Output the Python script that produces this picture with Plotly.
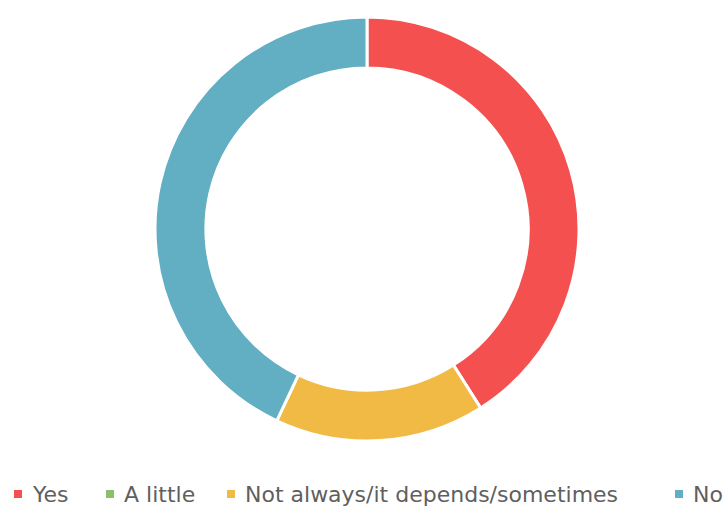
import plotly.graph_objects as go

# Survey responses (share of respondents, %)
labels = ["Yes", "A little", "Not always/it depends/sometimes", "No"]
values = [41, 0, 16, 43]
colors = ["#F45050", "#8BC06A", "#F0BA45", "#62AEC2"]

W, H = 727, 507
cx, cy, r = 367, 229, 212

fig = go.Figure(
    go.Pie(
        labels=labels,
        values=values,
        hole=0.76,
        sort=False,
        direction="clockwise",
        rotation=0,
        textinfo="none",
        marker=dict(colors=colors, line=dict(color="white", width=3)),
        showlegend=False,
        domain=dict(
            x=[(cx - r) / W, (cx + r) / W],
            y=[(H - cy - r) / H, (H - cy + r) / H],
        ),
    )
)

# Hand-placed horizontal legend along the bottom edge
legend_x = [14, 106, 227, 675]
legend_y = 494
sq = 8
shapes, annots = [], []
for lab, col, x0 in zip(labels, colors, legend_x):
    shapes.append(dict(
        type="rect", xref="paper", yref="paper",
        x0=x0 / W, x1=(x0 + sq) / W,
        y0=(H - legend_y - sq / 2) / H, y1=(H - legend_y + sq / 2) / H,
        fillcolor=col, line=dict(width=0),
    ))
    annots.append(dict(
        text=lab, xref="paper", yref="paper",
        x=(x0 + 16) / W, y=(H - legend_y) / H,
        xanchor="left", yanchor="middle", showarrow=False,
        font=dict(family="DejaVu Sans", size=22, color="#5f5f5f"),
    ))

fig.update_layout(
    width=W, height=H,
    margin=dict(l=0, r=0, t=0, b=0),
    paper_bgcolor="white",
    plot_bgcolor="white",
    shapes=shapes,
    annotations=annots,
)

fig.write_html("out.html")
